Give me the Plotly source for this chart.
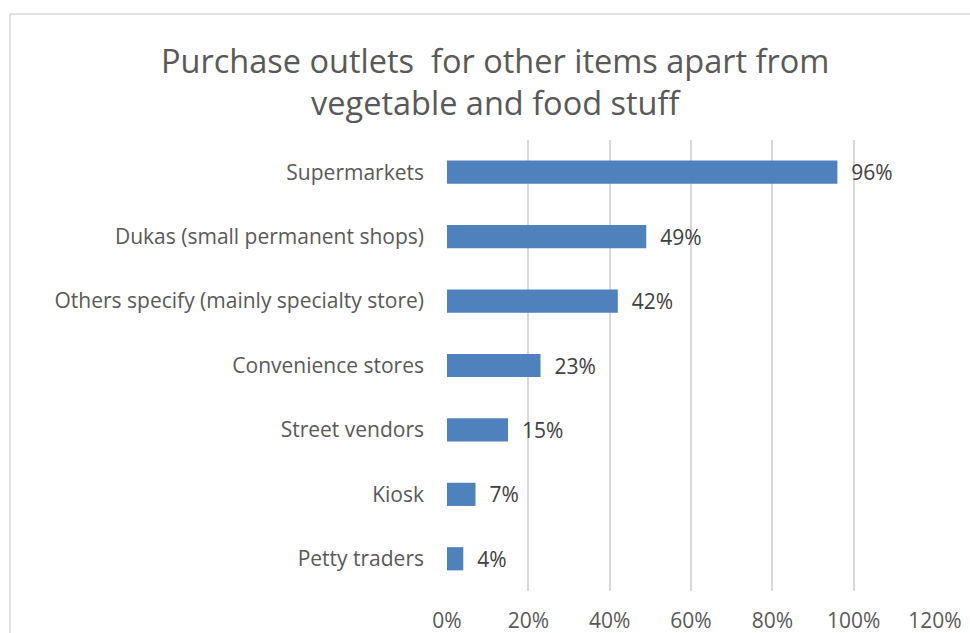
import plotly.graph_objects as go

categories = ["Supermarkets", "Dukas (small permanent shops)", "Others specify (mainly specialty store)",
              "Convenience stores", "Street vendors", "Kiosk", "Petty traders"]
values = [0.96, 0.49, 0.42, 0.23, 0.15, 0.07, 0.04]
tick_vals = [0, 0.2, 0.4, 0.6, 0.8, 1.0, 1.2]
tick_text = ["0%", "20%", "40%", "60%", "80%", "100%", "120%"]
title_text = "Purchase outlets \u00a0for other items apart from<br>vegetable and food stuff"

W, H = 970, 633
ml, mr, mt, mb = 447, 35, 140, 42
pw, ph = W - ml - mr, H - mt - mb

font_family = "'Open Sans', sans-serif"
grey = "#595959"


def px_to_paper_x(px):
    return (px - ml) / pw


def px_to_paper_y(py):
    return (H - mb - py) / ph


fig = go.Figure(go.Bar(
    y=categories, x=values, orientation="h",
    marker=dict(color="#4f81bd", line=dict(width=0)),
    text=[f"\u00a0\u00a0{round(v*100)}%" for v in values],
    textposition="outside", cliponaxis=False, constraintext="none",
    textfont=dict(size=21, color="#404040", family=font_family),
    width=0.36,
))

# chart border (extends past the bottom/right of the image)
fig.add_shape(type="rect", xref="paper", yref="paper",
              x0=px_to_paper_x(10), x1=px_to_paper_x(1100),
              y0=px_to_paper_y(700), y1=px_to_paper_y(14),
              line=dict(color="#d9d9d9", width=1.5), layer="below")

fig.add_annotation(text=title_text, xref="paper", yref="paper",
                   x=px_to_paper_x(495), y=px_to_paper_y(81.5),
                   xanchor="center", yanchor="middle", showarrow=False,
                   font=dict(size=32.5, color=grey, family=font_family))

fig.update_layout(
    width=W, height=H,
    margin=dict(l=ml, r=mr, t=mt, b=mb),
    paper_bgcolor="white", plot_bgcolor="white",
    showlegend=False,
    xaxis=dict(range=[0, 1.2], tickvals=tick_vals, ticktext=tick_text,
               showgrid=True, gridcolor="#d9d9d9", gridwidth=1.5,
               zeroline=False, showline=False, ticks="",
               ticklabelstandoff=15, automargin=False,
               tickfont=dict(size=21, color=grey, family=font_family)),
    yaxis=dict(autorange="reversed", showgrid=False, zeroline=False, showline=False,
               ticks="", ticklabelstandoff=22, automargin=False,
               tickfont=dict(size=21, color=grey, family=font_family)),
    bargap=0.64,
)

fig.write_html("out.html")
